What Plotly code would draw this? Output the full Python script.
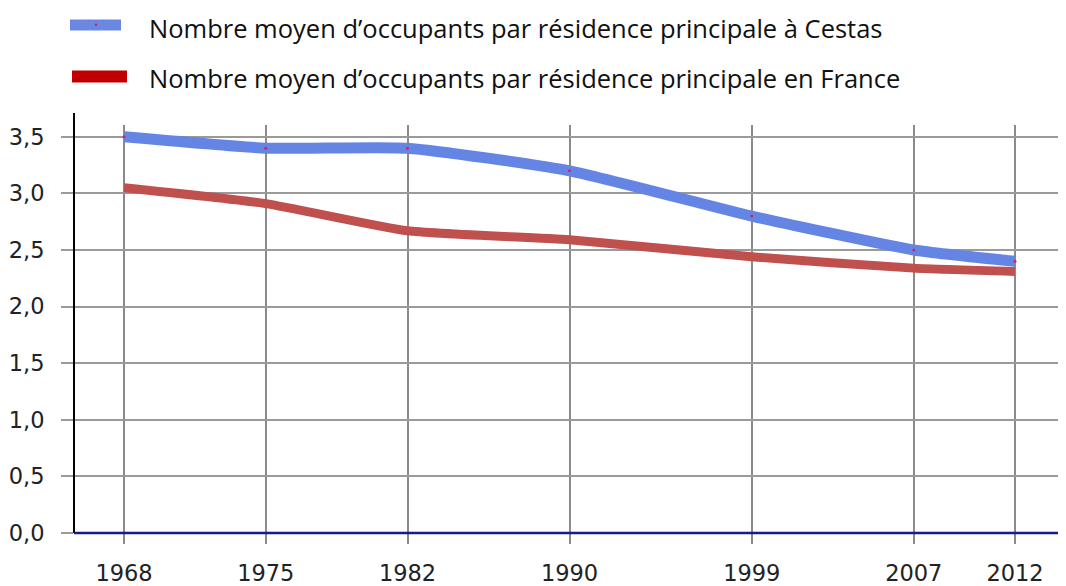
import plotly.graph_objects as go

years = [1968, 1975, 1982, 1990, 1999, 2007, 2012]
cestas = [3.5, 3.4, 3.4, 3.2, 2.8, 2.5, 2.4]
france = [3.05, 2.91, 2.67, 2.59, 2.44, 2.34, 2.31]
y_ticks = [0, 0.5, 1.0, 1.5, 2.0, 2.5, 3.0, 3.5]
label_cestas = "Nombre moyen d\u2019occupants par résidence principale à Cestas"
label_france = "Nombre moyen d\u2019occupants par résidence principale en France"

OFF = 8  # page body margin
W, H = 1066 - OFF, 586 - OFF
L, R, T, B = 74 - OFF, 0, 125 - OFF, 49
PW, PH = W - L - R, H - T - B


def px(x):
    return (x - OFF - L) / PW


def py(y):
    return (H + OFF - B - y) / PH


fig = go.Figure()
fig.add_trace(go.Scatter(
    x=years, y=france, mode="lines",
    line=dict(color="#C0504D", width=9, shape="spline", smoothing=0.5),
    name=label_france, showlegend=False, hoverinfo="skip"))
fig.add_trace(go.Scatter(
    x=years, y=cestas, mode="lines+markers",
    line=dict(color="#6585E4", width=11, shape="spline", smoothing=0.5),
    marker=dict(color="#D0206A", size=3),
    name=label_cestas, showlegend=False))

shapes = [
    dict(type="line", xref="paper", yref="paper", x0=0, x1=0, y0=0, y1=py(113),
         line=dict(color="black", width=2)),
    dict(type="line", xref="paper", yref="paper", x0=0, x1=1, y0=0, y1=0,
         line=dict(color="#1a1a8a", width=2.5)),
    dict(type="rect", xref="paper", yref="paper", x0=px(70), x1=px(121), y0=py(29.5), y1=py(18.5),
         fillcolor="#6a87e2", line=dict(width=0)),
    dict(type="circle", xref="paper", yref="paper", x0=px(94.8), x1=px(97.2), y0=py(25), y1=py(22.6),
         fillcolor="#D0206A", line=dict(width=0)),
    dict(type="rect", xref="paper", yref="paper", x0=px(72), x1=px(127), y0=py(82), y1=py(70),
         fillcolor="#C00000", line=dict(width=0)),
]

annotations = [
    dict(xref="paper", yref="paper", x=px(147), y=py(27), text=label_cestas,
         showarrow=False, xanchor="left", yanchor="middle",
         font=dict(family="Open Sans", size=25.5, color="#111")),
    dict(xref="paper", yref="paper", x=px(147), y=py(78), text=label_france,
         showarrow=False, xanchor="left", yanchor="middle",
         font=dict(family="Open Sans", size=25.5, color="#111")),
]

x0 = 1968 - 50 / 20.25
fig.update_layout(
    width=W, height=H,
    margin=dict(l=L, r=R, t=T, b=B, pad=0),
    paper_bgcolor="white", plot_bgcolor="white",
    separators=",.",
    shapes=shapes, annotations=annotations,
    showlegend=False,
    xaxis=dict(range=[x0, x0 + PW / 20.25], tickmode="array", tickvals=years,
               ticktext=[str(y) for y in years],
               showgrid=True, gridcolor="#8a8a8a", gridwidth=1.5,
               zeroline=False, showline=False,
               ticks="outside", ticklen=10, tickwidth=1.5, tickcolor="#8a8a8a",
               ticklabelstandoff=10,
               tickfont=dict(family="DejaVu Sans", size=22.5, color="#222")),
    yaxis=dict(range=[0, PH / 114.3], tickmode="array", tickvals=y_ticks,
               tickformat=".1f",
               showgrid=True, gridcolor="#9a9a9a", gridwidth=1.5,
               zeroline=False, showline=False,
               ticks="outside", ticklen=12, tickwidth=1.5, tickcolor="#9a9a9a",
               ticklabelstandoff=12,
               tickfont=dict(family="DejaVu Sans", size=22.5, color="#222")),
)

fig.write_html("out.html")
